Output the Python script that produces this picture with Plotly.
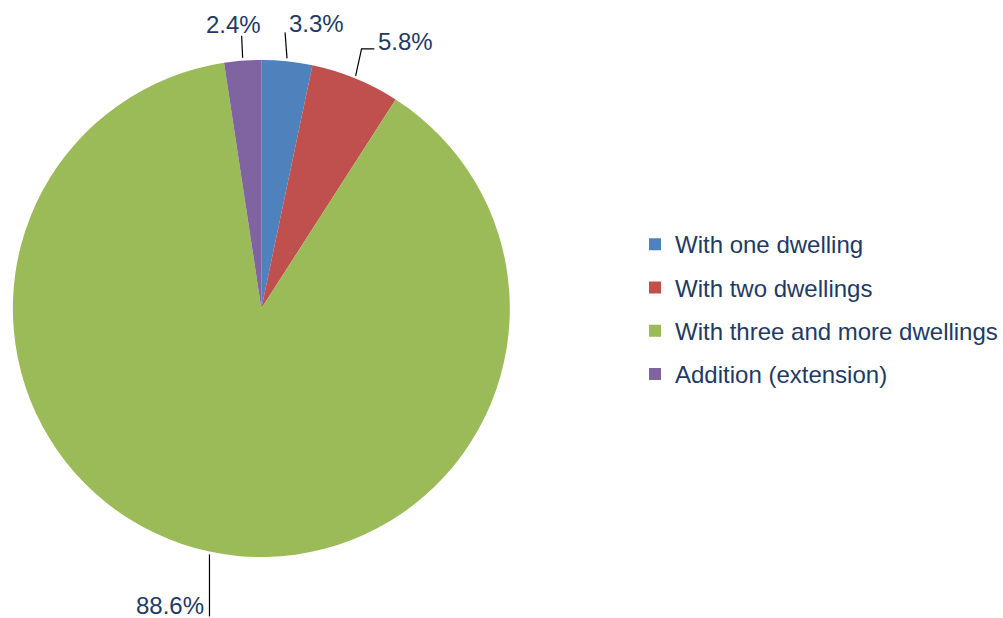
import math
import plotly.graph_objects as go

# ---- data ----
labels = ["With one dwelling", "With two dwellings",
          "With three and more dwellings", "Addition (extension)"]
values = [3.3, 5.8, 88.6, 2.4]
colors = ["#4F81BD", "#C0504D", "#9BBB59", "#8064A2"]
pct_text = [f"{v:.1f}%" for v in values]

# ---- layout/style constants (pixels) ----
W, H = 1003, 618
CX, CY, R = 264.5, 308.5, 251.5
TEXT_COLOR = "#1F3A64"
FONT = "Arial, Liberation Sans, sans-serif"
FS = 24

# leader line shapes relative to slice-edge midpoint, text offset relative to line end
leaders = [
    dict(path=[(-2, -26)], tx=3, ty=-8.5, xanchor="left"),
    dict(path=[(6, -27), (19, -27)], tx=3, ty=-7.5, xanchor="left"),
    dict(path=[(0, 62)], tx=-5, ty=-11, xanchor="right"),
    dict(path=[(-1, -22)], tx=-8, ty=-11.5, xanchor="center"),
]


def px(x):
    return x / W


def py(y):
    return 1 - y / H


fig = go.Figure()
fig.add_trace(go.Pie(
    labels=[f"<span style='font-size:{FS}px;baseline-shift:3.5px'>{l}</span>" for l in labels],
    values=values,
    marker=dict(colors=colors, line=dict(width=0)),
    sort=False,
    direction="clockwise",
    rotation=0,
    textinfo="none",
    hoverinfo="label+percent",
    domain=dict(x=[px(CX - R), px(CX + R)], y=[py(CY + R), py(CY - R)]),
))

shapes = []
annotations = []
total = sum(values)
cum = 0.0
for v, t, ld in zip(values, pct_text, leaders):
    mid = (cum + v / 2) / total * 2 * math.pi
    cum += v
    ax = CX + R * math.sin(mid)
    ay = CY - R * math.cos(mid)
    pts = [(ax, ay)] + [(ax + dx, ay + dy) for dx, dy in ld["path"]]
    path = "M " + " L ".join(f"{px(x):.5f},{py(y):.5f}" for x, y in pts)
    shapes.append(dict(type="path", xref="paper", yref="paper", path=path,
                       line=dict(color="#000000", width=1.2)))
    ex, ey = pts[-1]
    annotations.append(dict(
        x=px(ex + ld["tx"]), y=py(ey + ld["ty"]), xref="paper", yref="paper",
        text=t, showarrow=False, xanchor=ld["xanchor"], yanchor="middle",
        borderpad=0,
        font=dict(size=FS, color=TEXT_COLOR, family=FONT),
    ))

fig.update_layout(
    width=W, height=H,
    margin=dict(l=0, r=0, t=0, b=0),
    paper_bgcolor="white",
    plot_bgcolor="white",
    font=dict(family=FONT, color=TEXT_COLOR),
    showlegend=True,
    legend=dict(
        x=px(643), y=py(309.5), xanchor="left", yanchor="middle",
        font=dict(size=31, color=TEXT_COLOR, family=FONT),
        bgcolor="rgba(0,0,0,0)", borderwidth=0,
    ),
    shapes=shapes,
    annotations=annotations,
)

fig.write_html("out.html", config={"displayModeBar": False},
               post_script="document.body.style.margin='0';")
